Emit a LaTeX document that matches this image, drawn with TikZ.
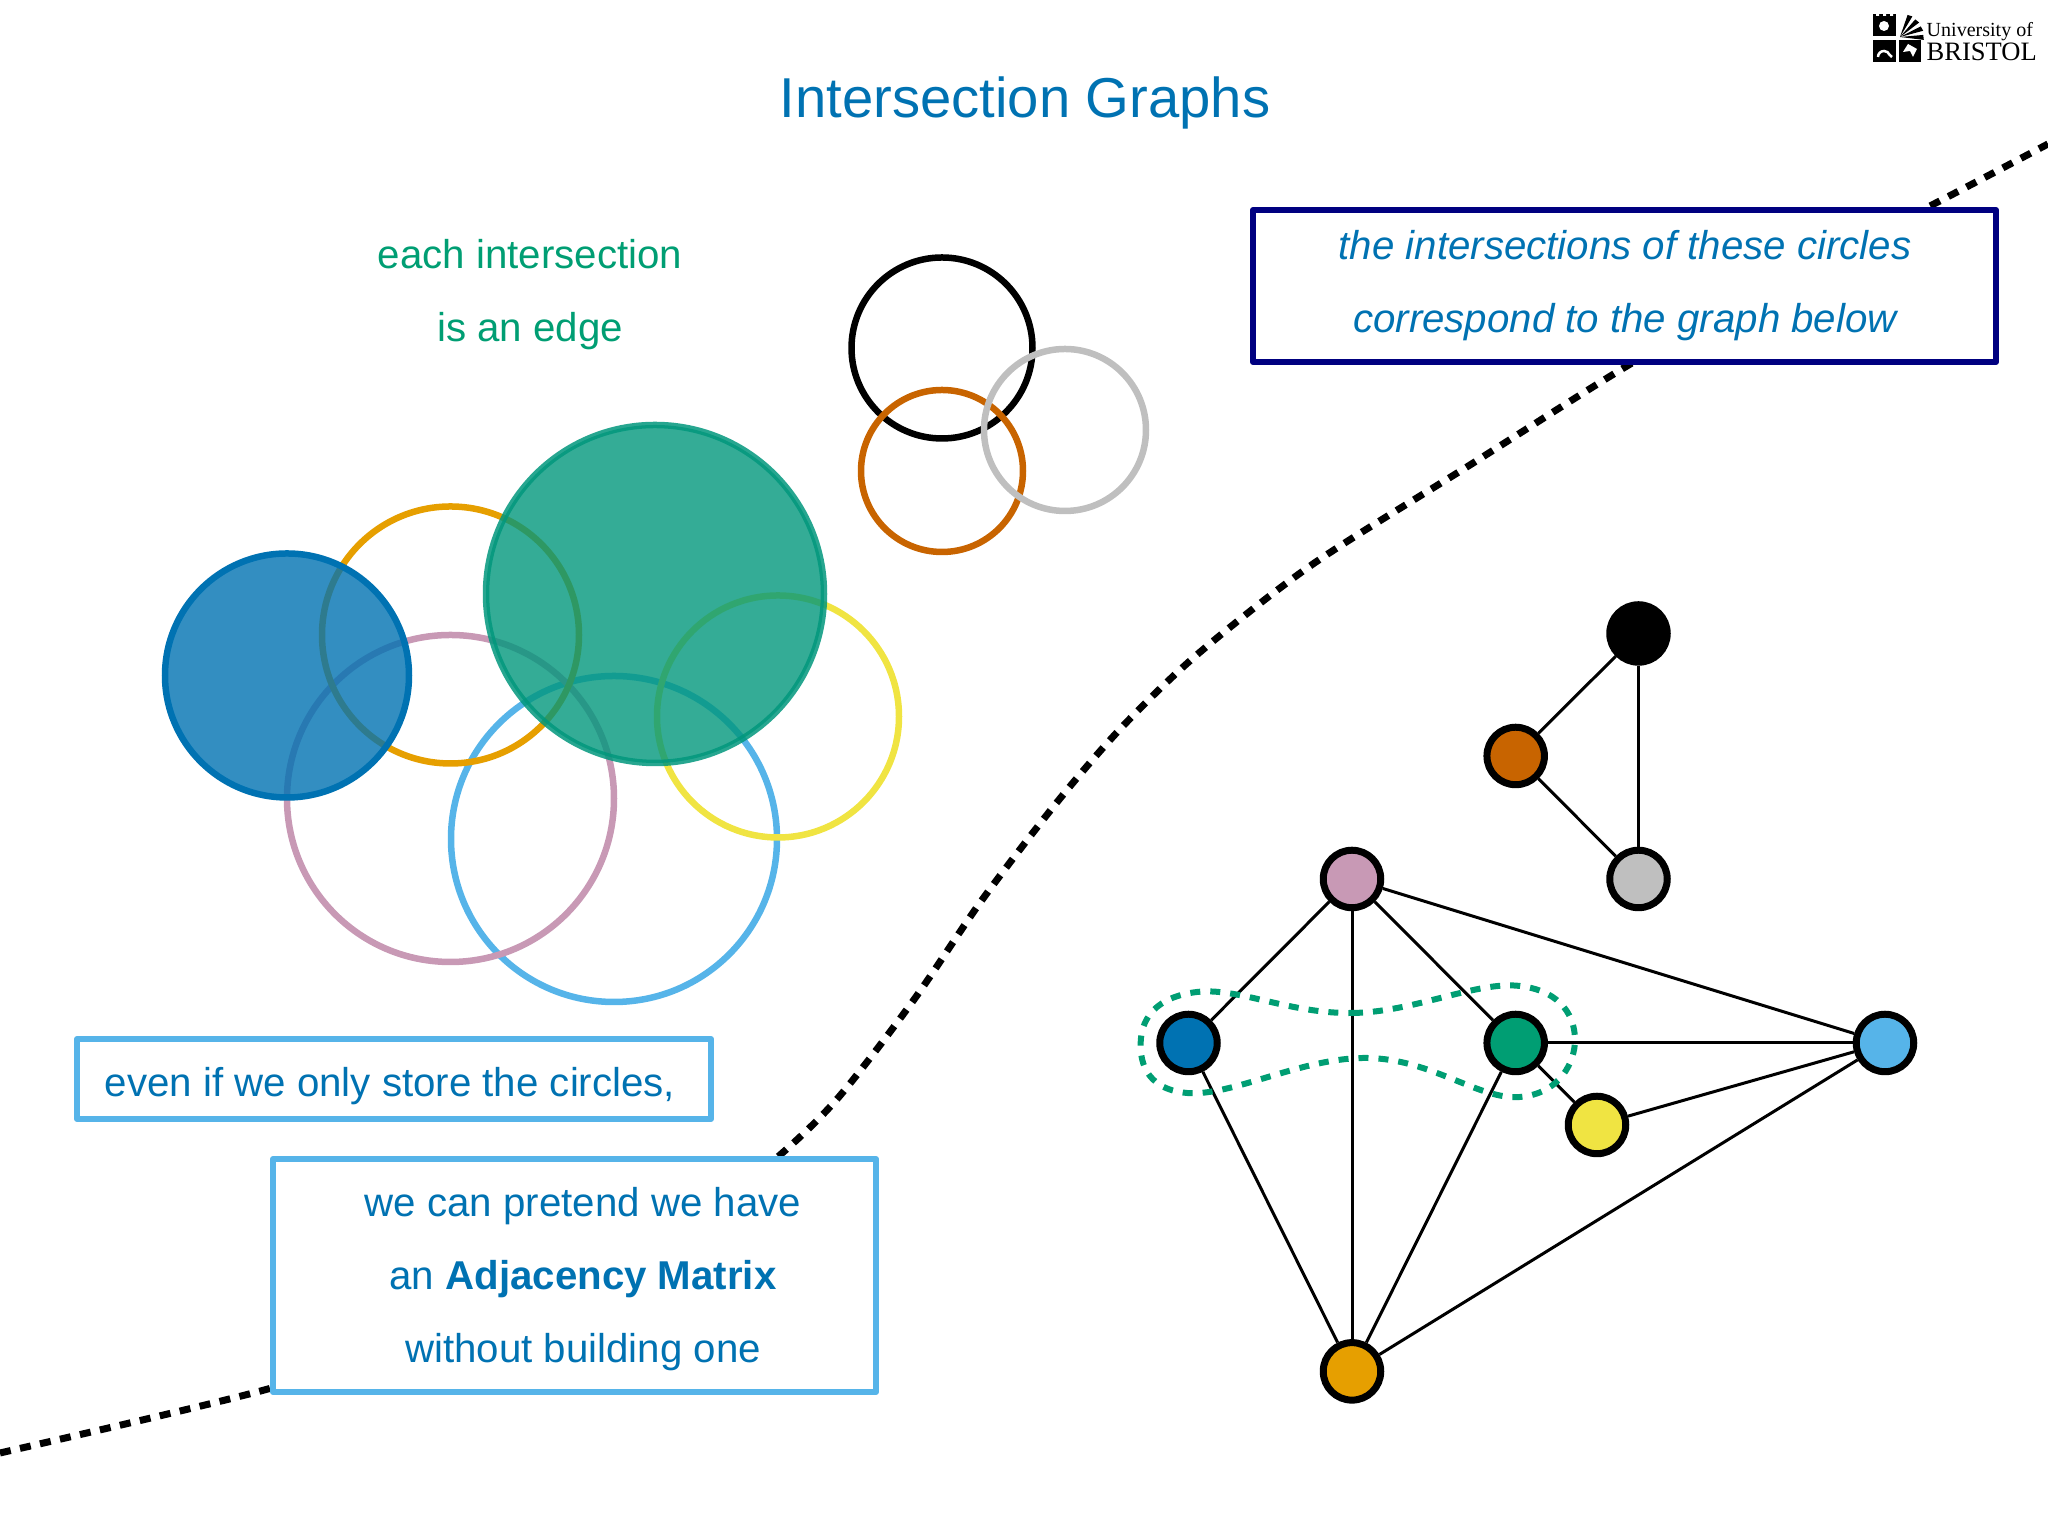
\documentclass[tikz,border=0pt]{standalone}
\usepackage{fontspec}
\setmainfont{Liberation Sans}
\newfontfamily\logofont{Liberation Serif}
\definecolor{cblue}{HTML}{0072B2}
\definecolor{corange}{HTML}{E69F00}
\definecolor{csky}{HTML}{56B4E9}
\definecolor{cgreen}{HTML}{009E73}
\definecolor{cteal}{HTML}{01977C}
\definecolor{cyellow}{HTML}{F0E442}
\definecolor{cverm}{HTML}{C86400}
\definecolor{cpink}{HTML}{C899B5}
\definecolor{cgray}{HTML}{BFBFBF}
\definecolor{cnavy}{HTML}{000080}
\tikzset{
    ring/.style={line width=0.065cm},
    disc/.style={line width=0.065cm, fill opacity=0.8},
    vertex/.style={circle, draw=black, line width=0.07cm, minimum size=0.575cm, inner sep=0pt},
    edge/.style={black, line width=0.03cm},
    label/.style={text=cblue, align=center, font=\fontsize{11.45}{20.8}\selectfont},
    skybox/.style={draw=csky, fill=white, line width=0.06cm, line join=round},
    navybox/.style={draw=cnavy, fill=white, line width=0.06cm, line join=round},
    divider/.style={black, line width=0.07cm, dash pattern=on 0.11cm off 0.095cm},
    blob/.style={cgreen, line width=0.06cm, dash pattern=on 0.1cm off 0.1cm}
}
\begin{document}
\begin{tikzpicture}
    \useasboundingbox (0,0) rectangle (20.48,15.36);

    \node[text=cblue, font=\fontsize{16}{20}\selectfont] (title) at (10.25,14.33) {Intersection Graphs};

    % logo
    \fill[black] (18.73,15.0) rectangle (18.96,15.22);
    \fill[black] (18.73,14.74) rectangle (18.96,14.96);
    \fill[black] (18.99,14.74) rectangle (19.21,14.96);
    \foreach \ang in {0,22,44,66} {
        \fill[black] (19.0,14.99) -- ++(\ang-7:0.24) -- ++(\ang+97:0.05) -- cycle;
    }
    \fill[white] (18.76,15.2) rectangle (18.79,15.22) (18.83,15.2) rectangle (18.86,15.22) (18.9,15.2) rectangle (18.93,15.22);
    \fill[white] (18.84,15.1) circle (0.05);
    \draw[white, line width=0.025cm] (18.78,14.79) arc (180:20:0.06) -- (18.92,14.79);
    \fill[white] (19.03,14.84) -- (19.08,14.92) -- (19.17,14.87) -- (19.13,14.79) -- (19.1,14.85) -- cycle;
    \node[anchor=base west, inner sep=0pt, font=\logofont\fontsize{5.7}{6}\selectfont] (logotop) at (19.26,14.99) {University of};
    \node[anchor=base west, inner sep=0pt, font=\logofont\fontsize{7.55}{9}\selectfont] (logobottom) at (19.26,14.75) {BRISTOL};

    % divider
    \draw[divider] plot[smooth, tension=0.5] coordinates {(0,0.83) (2.68,1.47) (4.6,2.1) (6.4,2.85) (7.2,3.35) (7.8,3.81)
        (8.38,4.38) (9.13,5.35) (9.82,6.36) (10.58,7.35) (11.23,8.1) (11.99,8.83) (13.13,9.72) (14.7,10.71) (16.32,11.73)
        (17.8,12.55) (19.3,13.3) (20.48,13.92)};

    % circles
    \draw[ring, csky] (6.14,6.97) circle (1.63);
    \draw[ring, cpink] (4.505,7.375) circle (1.635);
    \draw[ring, corange] (4.505,9.01) circle (1.285);
    \draw[ring, cyellow] (7.78,8.195) circle (1.21);
    \draw[disc, draw=cblue, fill=cblue] (2.87,8.605) circle (1.22);
    \draw[disc, draw=cteal, draw opacity=0.85, fill=cteal] (6.55,9.42) circle (1.69);

    \draw[ring, black] (9.42,11.88) circle (0.905);
    \draw[ring, cverm] (9.42,10.65) circle (0.81);
    \draw[ring, cgray] (10.65,11.06) circle (0.81);

    \node[label, text=cgreen] (edgenote) at (5.3,12.41) {each intersection\\is an edge};

    % boxes
    \draw[navybox] (12.53,11.74) rectangle (19.96,13.26);
    \node[label, font=\fontsize{11.45}{20.8}\selectfont\itshape] (graphnote) at (16.25,12.5) {the intersections of these circles\\correspond to the graph below};

    \draw[skybox] (0.77,4.17) rectangle (7.11,4.97);
    \node[label] (storenote) at (3.9,4.5) {even if we only store the circles,};

    \draw[skybox] (2.73,1.44) rectangle (8.76,3.77);
    \node[label] (matrixnote) at (5.83,2.57) {we can pretend we have\\an \textbf{Adjacency Matrix}\\without building one};

    % graphs
    \node[vertex, fill=black] (vblack) at (16.385,9.025) {};
    \node[vertex, fill=cverm] (vverm) at (15.157,7.8) {};
    \node[vertex, fill=cgray] (vgray) at (16.385,6.57) {};
    \node[vertex, fill=cpink] (vpink) at (13.52,6.57) {};
    \node[vertex, fill=cblue] (vblue) at (11.885,4.93) {};
    \node[vertex, fill=cgreen] (vgreen) at (15.157,4.93) {};
    \node[vertex, fill=cyellow] (vyellow) at (15.97,4.11) {};
    \node[vertex, fill=csky] (vsky) at (18.85,4.93) {};
    \node[vertex, fill=corange] (vorange) at (13.52,1.646) {};

    \draw[edge] (vverm) -- (vblack);
    \draw[edge] (vverm) -- (vgray);
    \draw[edge] (vblack) -- (vgray);
    \draw[edge] (vpink) -- (vblue);
    \draw[edge] (vpink) -- (vgreen);
    \draw[edge] (vpink) -- (vorange);
    \draw[edge] (vpink) -- (vsky);
    \draw[edge] (vblue) -- (vorange);
    \draw[edge] (vgreen) -- (vorange);
    \draw[edge] (vgreen) -- (vyellow);
    \draw[edge] (vgreen) -- (vsky);
    \draw[edge] (vyellow) -- (vsky);
    \draw[edge] (vorange) -- (vsky);

    % the pair
    \draw[blob] plot[smooth cycle, tension=0.7] coordinates {(11.97,5.44) (13.53,5.23) (15.2,5.5) (15.75,4.96)
        (15.2,4.39) (13.67,4.78) (11.87,4.43) (11.41,4.98)};
\end{tikzpicture}
\end{document}
